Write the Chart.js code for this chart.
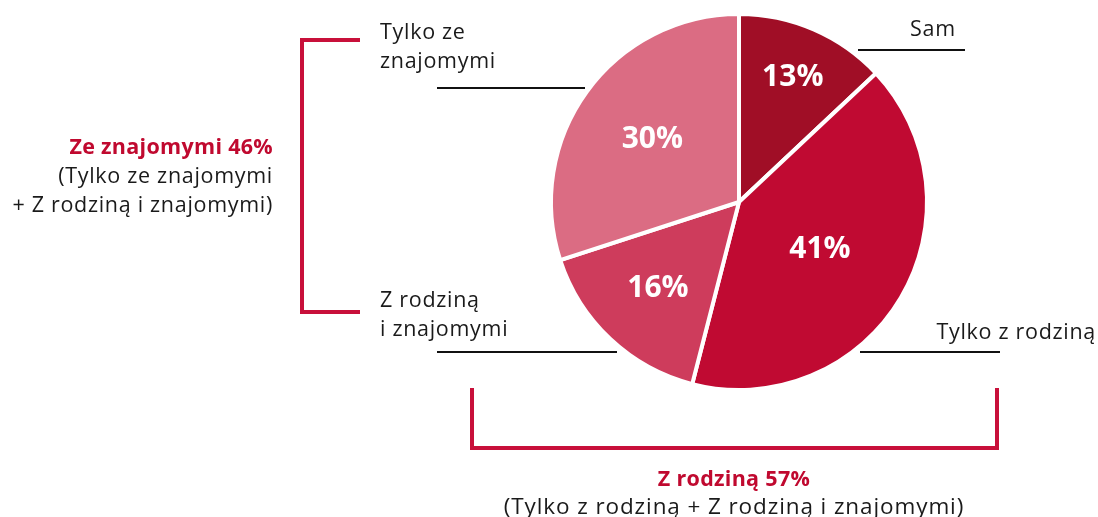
<!DOCTYPE html>
<html lang="pl">
<head>
  <meta charset="UTF-8" />
  <title>Z kim</title>
  <script src="https://cdn.jsdelivr.net/npm/chart.js"></script>
  <style>
    * { box-sizing: border-box; }
    body { margin: 0; background: #fff; font-family: 'Open Sans', sans-serif; color: #1a1a1a; }
    .wrap { position: relative; width: 1098px; height: 517px; overflow: hidden; }
    canvas { position: absolute; left: 0; top: 0; }
    .t { position: absolute; font-size: 21.5px; line-height: 29px; white-space: nowrap; letter-spacing: 0.7px; }
    .red { color: #c0092f; font-weight: 700; letter-spacing: 0.3px; }
    .ln { position: absolute; height: 2px; background: #111; }
    .br { position: absolute; background: #c8103a; }
  </style>
</head>
<body>
<div class="wrap">
  <canvas id="pie" width="1098" height="517"></canvas>

  <!-- leader lines -->
  <div class="ln" style="left:858px; top:49px; width:107px;"></div>
  <div class="ln" style="left:437px; top:87px; width:148px;"></div>
  <div class="ln" style="left:437px; top:351px; width:180px;"></div>
  <div class="ln" style="left:860px; top:351px; width:140px;"></div>

  <!-- left bracket -->
  <div class="br" style="left:300px; top:38px; width:4px; height:276px;"></div>
  <div class="br" style="left:300px; top:38px; width:60px; height:4px;"></div>
  <div class="br" style="left:300px; top:310px; width:60px; height:4px;"></div>

  <!-- bottom bracket -->
  <div class="br" style="left:470px; top:446px; width:529px; height:4px;"></div>
  <div class="br" style="left:470px; top:388px; width:4px; height:62px;"></div>
  <div class="br" style="left:995px; top:388px; width:4px; height:62px;"></div>

  <div class="t" style="left:380px; top:16px;">Tylko ze<br>znajomymi</div>
  <div class="t" style="left:910px; top:13px;">Sam</div>
  <div class="t" style="left:380px; top:284px;">Z rodziną<br>i znajomymi</div>
  <div class="t" style="right:2px; top:316px;">Tylko z rodziną</div>

  <div class="t" style="right:825px; top:131px; text-align:right;"><span class="red">Ze znajomymi 46%</span><br>(Tylko ze znajomymi<br>+ Z rodziną i znajomymi)</div>
  <div class="t" style="left:234px; width:1000px; top:464px; text-align:center; line-height:28px;"><span class="red">Z rodziną 57%</span><br><span style="font-size:22.5px; letter-spacing:0.9px;">(Tylko z rodziną + Z rodziną i znajomymi)</span></div>
</div>

<script>
  const labels = ['Sam', 'Tylko z rodziną', 'Z rodziną i znajomymi', 'Tylko ze znajomymi'];
  const values = [13, 41, 16, 30];
  const colors = ['#a00e26', '#c00a32', '#ce3c5c', '#db6c83'];

  // how far out (share of radius) each percentage sits
  const labelRadius = [0.72, 0.5, 0.63, 0.57];

  const pctLabels = {
    id: 'pctLabels',
    afterDatasetsDraw(chart) {
      const ctx = chart.ctx;
      const meta = chart.getDatasetMeta(0);
      ctx.save();
      ctx.fillStyle = '#fff';
      ctx.font = 'bold 30px "Open Sans", sans-serif';
      ctx.textAlign = 'center';
      ctx.textBaseline = 'middle';
      meta.data.forEach((arc, i) => {
        const p = arc.getProps(['x', 'y', 'startAngle', 'endAngle', 'outerRadius'], true);
        const mid = (p.startAngle + p.endAngle) / 2;
        const r = p.outerRadius * labelRadius[i];
        ctx.fillText(values[i] + '%', p.x + Math.cos(mid) * r, p.y + Math.sin(mid) * r);
      });
      ctx.restore();
    }
  };

  new Chart(document.getElementById('pie'), {
    type: 'pie',
    data: {
      labels: labels,
      datasets: [{
        data: values,
        backgroundColor: colors,
        borderColor: '#fff',
        borderWidth: 4
      }]
    },
    options: {
      responsive: false,
      animation: false,
      layout: { padding: { left: 549, right: 169, top: 12, bottom: 125 } },
      plugins: {
        legend: { display: false },
        tooltip: { enabled: false }
      }
    },
    plugins: [pctLabels]
  });
</script>
</body>
</html>
